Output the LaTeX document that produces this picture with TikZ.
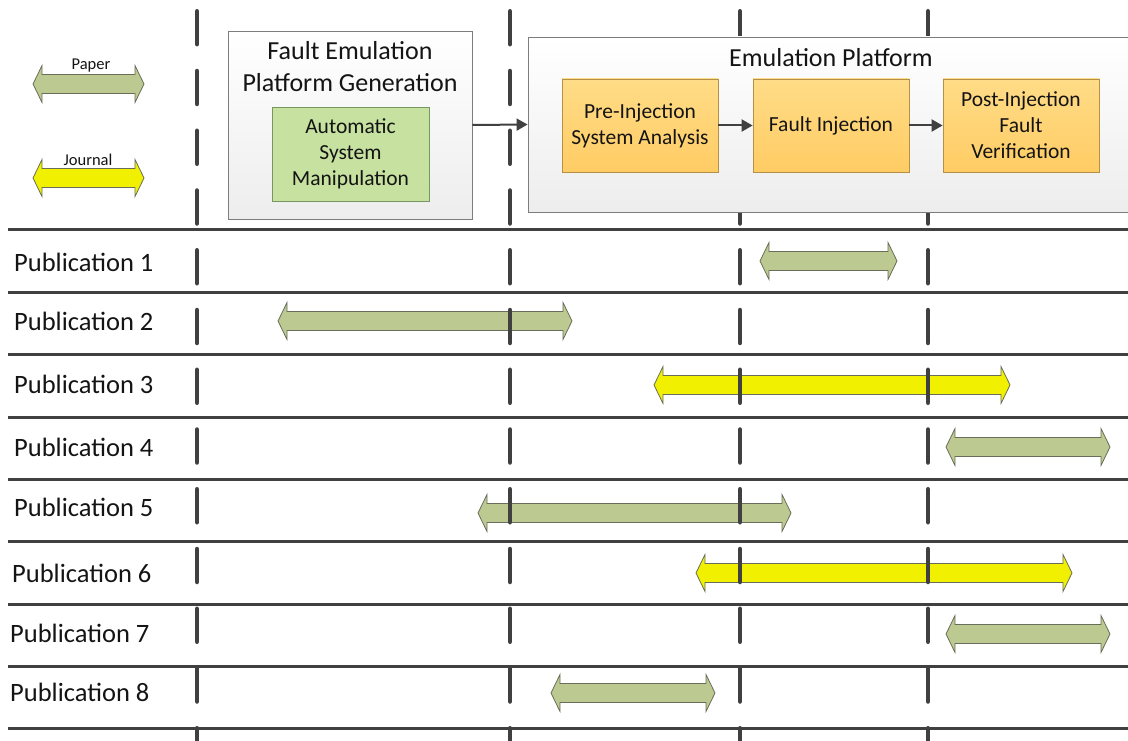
\documentclass[tikz,border=0pt]{standalone}
\usepackage{fontspec}
\setmainfont{Carlito}
\usetikzlibrary{arrows.meta}

\definecolor{rule}{RGB}{64,64,64}
\definecolor{ink}{RGB}{20,20,20}
\definecolor{paperfill}{RGB}{188,201,145}
\definecolor{journalfill}{RGB}{240,240,0}
\definecolor{spanedge}{RGB}{105,110,90}
\definecolor{stagetop}{RGB}{255,220,135}
\definecolor{stagebot}{RGB}{255,204,100}
\definecolor{stageedge}{RGB}{180,145,70}
\definecolor{autofill}{RGB}{198,225,160}
\definecolor{autoedge}{RGB}{120,150,95}
\definecolor{frameedge}{RGB}{125,125,125}

\begin{document}
\begin{tikzpicture}[x=1pt,y=-1pt,
  rowline/.style={rule, line width=3pt},
  phase/.style={rule, line width=4.5pt, line cap=round, dash pattern=on 33pt off 26.75pt},
  spanline/.style={draw=spanedge, line width=0.8pt, line join=miter},
  frame/.style={draw=frameedge, line width=0.9pt, top color=white, bottom color=black!7},
  stage/.style={draw=stageedge, line width=0.8pt, top color=stagetop, bottom color=stagebot,
    minimum width=156pt, minimum height=93pt, align=center, text=ink,
    font=\fontsize{21.5}{26}\selectfont},
  autostage/.style={draw=autoedge, line width=0.8pt, fill=autofill,
    minimum width=157pt, minimum height=94pt, align=center, text=ink,
    font=\fontsize{21.5}{26}\selectfont},
  title/.style={align=center, text=ink, font=\fontsize{26}{32}\selectfont},
  pub/.style={anchor=west, inner sep=0pt, text=ink, font=\fontsize{26.5}{31}\selectfont},
  legendlabel/.style={inner sep=0pt, text=ink, font=\fontsize{16.5}{20}\selectfont},
  flow/.style={rule, line width=2pt, -{Triangle[length=11pt,width=12pt]}},
  pics/span/.style 2 args={code={
    \filldraw[spanline, fill=#2] (0,0) -- (9,-18.5) -- (9,-9.5) -- (#1-9,-9.5) -- (#1-9,-18.5)
      -- (#1,0) -- (#1-9,18.5) -- (#1-9,9.5) -- (9,9.5) -- (9,18.5) -- cycle;
  }}
]
\useasboundingbox (0,0) rectangle (1128,741);
\begin{scope}
\clip (0,0) rectangle (1128,741);

% row separators
\foreach \y in {229,292,354,417,479,541,604,666,728}
  \draw[rowline] (8,\y) -- (1128,\y);

% row labels
\node[pub] (p1) at (14,262) {Publication 1};
\node[pub] (p2) at (14,321) {Publication 2};
\node[pub] (p3) at (14,384) {Publication 3};
\node[pub] (p4) at (14,447) {Publication 4};
\node[pub] (p5) at (14,507) {Publication 5};
\node[pub] (p6) at (12,573) {Publication 6};
\node[pub] (p7) at (10,633) {Publication 7};
\node[pub] (p8) at (10,692) {Publication 8};

% legend
\pic at (33,84) {span={111}{paperfill}};
\node[legendlabel] (paperkey) at (91,66) {Paper};
\pic at (33,178) {span={111}{journalfill}};
\node[legendlabel] (journalkey) at (88,160) {Journal};

% coverage spans
\pic at (760,261) {span={137}{paperfill}};
\pic at (278,321) {span={294}{paperfill}};
\pic at (654,385) {span={356}{journalfill}};
\pic at (946,447) {span={164}{paperfill}};
\pic at (478,513) {span={313}{paperfill}};
\pic at (696,573) {span={376}{journalfill}};
\pic at (946,634) {span={164}{paperfill}};
\pic at (551,693) {span={164}{paperfill}};

% stage boundaries
\foreach \x in {197,510,740,928}
  \draw[phase] (\x,11.25) -- (\x,745);

% platform generation
\node[frame, minimum width=244pt, minimum height=188pt] (gen) at (350,125) {};
\node[title] (gentitle) at (350,67) {Fault Emulation\\Platform Generation};
\node[autostage] (auto) at (350.5,154) {Automatic\\System\\Manipulation};

% emulation platform
\node[frame, minimum width=606pt, minimum height=175pt] (emu) at (831,124.5) {};
\node[title] (emutitle) at (831,58) {Emulation Platform};
\node[stage] (pre) at (640,125.5) {Pre-Injection\\System Analysis};
\node[stage] (inj) at (831,125.5) {Fault Injection};
\node[stage] (post) at (1021,125.5) {Post-Injection\\Fault\\Verification};

% flow
\draw[flow] (gen.east) -- (emu.west);
\draw[flow] (pre.east) -- (inj.west);
\draw[flow] (inj.east) -- (post.west);
\end{scope}
\end{tikzpicture}
\end{document}
